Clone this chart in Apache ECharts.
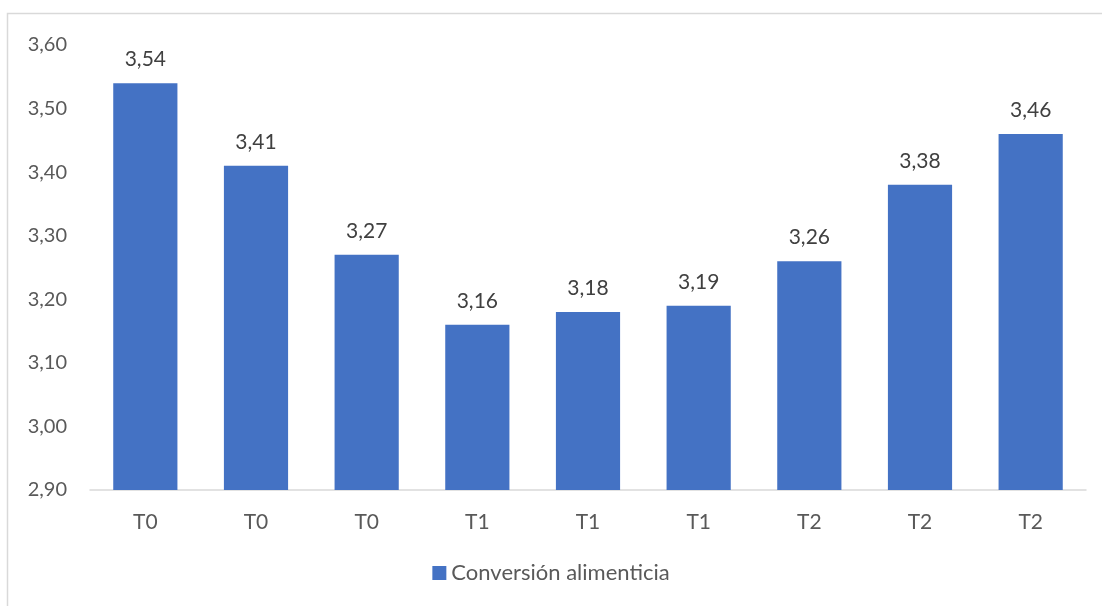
<!DOCTYPE html>
<html>
<head>
<meta charset="utf-8">
<script src="https://cdn.jsdelivr.net/npm/echarts@6/dist/echarts.min.js"></script>
<style>
  html, body { margin: 0; padding: 0; background: #fff; }
  #chart { width: 1102px; height: 606px; }
</style>
</head>
<body>
<div id="chart"></div>
<script>
// Feed conversion per treatment group
const categories = ['T0', 'T0', 'T0', 'T1', 'T1', 'T1', 'T2', 'T2', 'T2'];
const conversion = [3.54, 3.41, 3.27, 3.16, 3.18, 3.19, 3.26, 3.38, 3.46];
const seriesName = 'Conversión alimenticia';

const fmt = v => v.toFixed(2).replace('.', ',');
const FONT = 'Lato, "Open Sans", sans-serif';
const TEXT = '#595959';

const chart = echarts.init(document.getElementById('chart'), null, { renderer: 'canvas' });
chart.setOption({
  animation: false,
  backgroundColor: '#fff',
  graphic: [{
    type: 'rect',
    shape: { x: 7.5, y: 13.5, width: 1200, height: 700 },
    style: { fill: 'none', stroke: '#D9D9D9', lineWidth: 1.5 },
    silent: true,
    z: -1
  }],
  grid: { left: 90, right: 16, top: 45, bottom: 116, containLabel: false },
  legend: {
    bottom: 17,
    left: 'center',
    itemWidth: 14,
    itemHeight: 14,
    itemGap: 7,
    icon: 'rect',
    textStyle: { color: TEXT, fontSize: 22, fontFamily: FONT },
    data: [seriesName]
  },
  xAxis: {
    type: 'category',
    data: categories,
    axisLine: { lineStyle: { color: '#D9D9D9', width: 1.5 } },
    axisTick: { show: false },
    axisLabel: { color: TEXT, fontSize: 21, fontFamily: FONT, margin: 22, interval: 0 },
    splitLine: { show: false }
  },
  yAxis: {
    type: 'value',
    min: 2.9,
    max: 3.6,
    interval: 0.1,
    axisLine: { show: false },
    axisTick: { show: false },
    splitLine: { show: false },
    axisLabel: { color: TEXT, fontSize: 20, fontFamily: FONT, margin: 23, formatter: fmt }
  },
  series: [{
    name: seriesName,
    type: 'bar',
    data: conversion,
    barWidth: '58%',
    itemStyle: { color: '#4472C4' },
    label: {
      show: true,
      position: 'top',
      distance: 13,
      color: '#404040',
      fontSize: 21,
      fontFamily: FONT,
      formatter: p => fmt(p.value)
    }
  }]
});
</script>
</body>
</html>
